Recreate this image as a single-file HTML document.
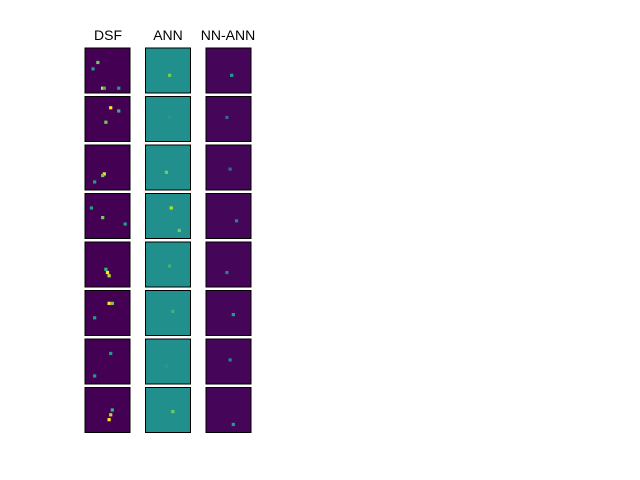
<!DOCTYPE html>
<html><head><meta charset="utf-8"><style>
body{margin:0;background:#fff}
svg{display:block}
text{font-family:"Liberation Sans",sans-serif;font-size:14px;fill:#000}
</style></head><body>
<svg id="c" width="640" height="480">
<text x="108" y="40" text-anchor="middle">DSF</text>
<text x="168" y="40" text-anchor="middle">ANN</text>
<text x="228" y="40" text-anchor="middle">NN-ANN</text>
<g id="panels"></g>
</svg>
<script>
const columns = ["DSF","ANN","NN-ANN"];
const baseColors = ["#440154","#21908d","#450559"];
const rowCount = 8;
// hotspots per panel: [col,row,gridX,gridY,value 0..1] on a 28x28 grid
const hotspots = [
 [0,0,10,24,1.0],[0,0,11,24,0.7],[0,0,7,8,0.8],[0,0,4,12,0.5],[0,0,20,24,0.5],
 [0,1,15,6,1.0],[0,1,12,15,0.8],[0,1,20,8,0.7],
 [0,2,11,17,1.0],[0,2,10,18,0.8],[0,2,5,22,0.5],
 [0,3,10,14,0.8],[0,3,24,18,0.6],[0,3,3,8,0.5],
 [0,4,13,18,1.0],[0,4,14,20,0.9],[0,4,12,16,0.7],
 [0,5,14,7,1.0],[0,5,16,7,0.8],[0,5,5,16,0.5],
 [0,6,5,22,0.6],[0,6,15,8,0.5],
 [0,7,15,16,0.9],[0,7,14,19,1.0],[0,7,16,13,0.7],
 [1,0,14,16,0.8],[1,1,14,12,0.6],[1,2,12,16,0.8],[1,3,15,8,0.9],[1,3,20,22,0.8],
 [1,4,14,14,0.7],[1,5,16,12,0.7],[1,6,12,16,0.6],[1,7,16,14,0.8],
 [2,0,15,16,0.5],[2,1,12,12,0.35],[2,2,14,14,0.35],[2,3,18,16,0.45],
 [2,4,12,18,0.45],[2,5,16,14,0.5],[2,6,14,12,0.4],[2,7,16,22,0.5]
];
const viridis=["#440154","#482878","#3e4989","#31688e","#26828e","#1f9e89","#35b779","#6ece58","#b5de2b","#fde725"];
const colX=c=>85+c*60.5, rowY=r=>48+r*48.5, size=45, cell=size/28;
const g=document.getElementById('panels');
const NS="http://www.w3.org/2000/svg";
for(let c=0;c<columns.length;c++)for(let r=0;r<rowCount;r++){
 const rect=document.createElementNS(NS,'rect');
 
 
 rect.setAttribute('x',colX(c));rect.setAttribute('y',rowY(r));
 rect.setAttribute('width',size);rect.setAttribute('height',size);
 rect.setAttribute('fill',baseColors[c]);rect.setAttribute('stroke','#000');rect.setAttribute('stroke-width','1');
 g.appendChild(rect);
}
hotspots.forEach(h=>{
 const [c,r,gx,gy,v]=h;
 const s=document.createElementNS(NS,'rect');
 
 
 s.setAttribute('x',colX(c)+gx*cell);s.setAttribute('y',rowY(r)+gy*cell);
 s.setAttribute('width',cell*2);s.setAttribute('height',cell*2);
 s.setAttribute('fill',viridis[Math.min(9,Math.round(v*9))]);
 g.appendChild(s);
});
</script>
</body></html>
